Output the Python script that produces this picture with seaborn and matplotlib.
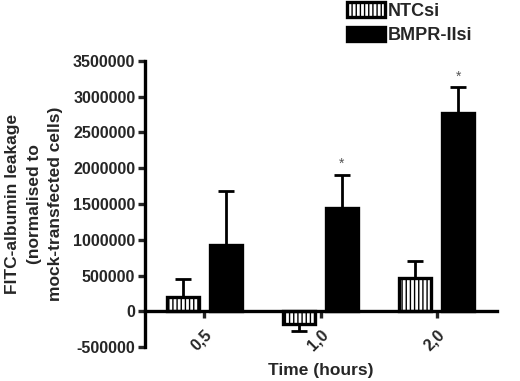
import matplotlib
matplotlib.use("Agg")
import matplotlib.pyplot as plt
import seaborn as sns
import pandas as pd
import numpy as np

times = ["0.5", "1.0", "2.0"]
tick_labels = ["0,5", "1,0", "2,0"]
groups = ["NTCsi", "BMPR-IIsi"]
ntc_mean = [200000, -180000, 470000]
ntc_err = [245000, 95000, 235000]
bmpr_mean = [930000, 1440000, 2770000]
bmpr_err = [750000, 470000, 360000]
significant = [[False, False, False], [False, True, True]]
yticks = [-500000, 0, 500000, 1000000, 1500000, 2000000, 2500000, 3000000, 3500000]

df = pd.DataFrame({
    "time": times * 2,
    "group": [groups[0]] * 3 + [groups[1]] * 3,
    "value": ntc_mean + bmpr_mean,
})
errs = [ntc_err, bmpr_err]
means = [ntc_mean, bmpr_mean]

sns.set_style("white")
plt.rcParams["font.family"] = ["Liberation Sans", "DejaVu Sans"]
plt.rcParams["font.weight"] = "bold"
plt.rcParams["hatch.linewidth"] = 1.0

fig = plt.figure(figsize=(5.2, 3.81), dpi=100)
ax = fig.add_axes([0.279, 0.089, 0.677, 0.751])

sns.barplot(data=df, x="time", y="value", hue="group", hue_order=groups,
            order=times, palette=["white", "black"], width=0.74, gap=0.26,
            errorbar=None, edgecolor="black", linewidth=2.4, ax=ax,
            saturation=1, legend=False)

containers = list(ax.containers)
for bar in containers[0]:
    bar.set_hatch("||||")

for gi, cont in enumerate(containers):
    for i, bar in enumerate(list(cont)):
        xc = bar.get_x() + bar.get_width() / 2
        m = means[gi][i]
        e = errs[gi][i]
        if m >= 0:
            yerr = [[0], [e]]
            top = m + e
        else:
            yerr = [[e], [0]]
            top = m - e
        ax.errorbar(xc, m, yerr=yerr, color="black", capsize=5.8,
                    elinewidth=2.0, capthick=2.0, zorder=1, fmt="none")
        if significant[gi][i]:
            ax.text(xc, top + 50000, "*", ha="center", va="bottom",
                    fontsize=10, fontweight="normal", color="#555555")

for s in ["top", "right"]:
    ax.spines[s].set_visible(False)
ax.spines["left"].set_linewidth(2.4)
ax.spines["bottom"].set_linewidth(2.4)
ax.spines["bottom"].set_position(("data", 0))
ax.spines["left"].set_color("black")
ax.spines["bottom"].set_color("black")

ax.set_ylim(-500000, 3500000)
ax.set_xlim(-0.51, 2.52)
ax.set_yticks(yticks)
ax.set_yticklabels([str(v) for v in yticks], fontsize=11.5, fontweight="bold")
ax.set_xticks(range(len(times)))
ax.set_xticklabels(tick_labels, rotation=45, ha="right", rotation_mode="anchor",
                   fontsize=11.5, fontweight="bold")
ax.tick_params(axis="x", length=5, width=2.4, direction="out", pad=6, bottom=True)
ax.tick_params(axis="y", length=5, width=2.4, direction="out", left=True, pad=2)

ax.set_xlabel("Time (hours)", fontsize=12.5, fontweight="bold")
ax.xaxis.set_label_coords(0.5, -0.055)
ax.set_ylabel("FITC-albumin leakage\n(normalised to\nmock-transfected cells)",
              fontsize=12.5, fontweight="bold", linespacing=1.55)
ax.yaxis.set_label_coords(-0.232, 0.5)

leg = ax.legend(handles=[containers[0][0], containers[1][0]], labels=groups,
                loc="upper left", bbox_to_anchor=(0.554, 1.23), frameon=False,
                prop={"size": 13, "weight": "bold"}, handlelength=2.1,
                handleheight=0.85, labelspacing=0.4, handletextpad=0.15,
                borderaxespad=0)

fig.savefig("out.png", dpi=100)
